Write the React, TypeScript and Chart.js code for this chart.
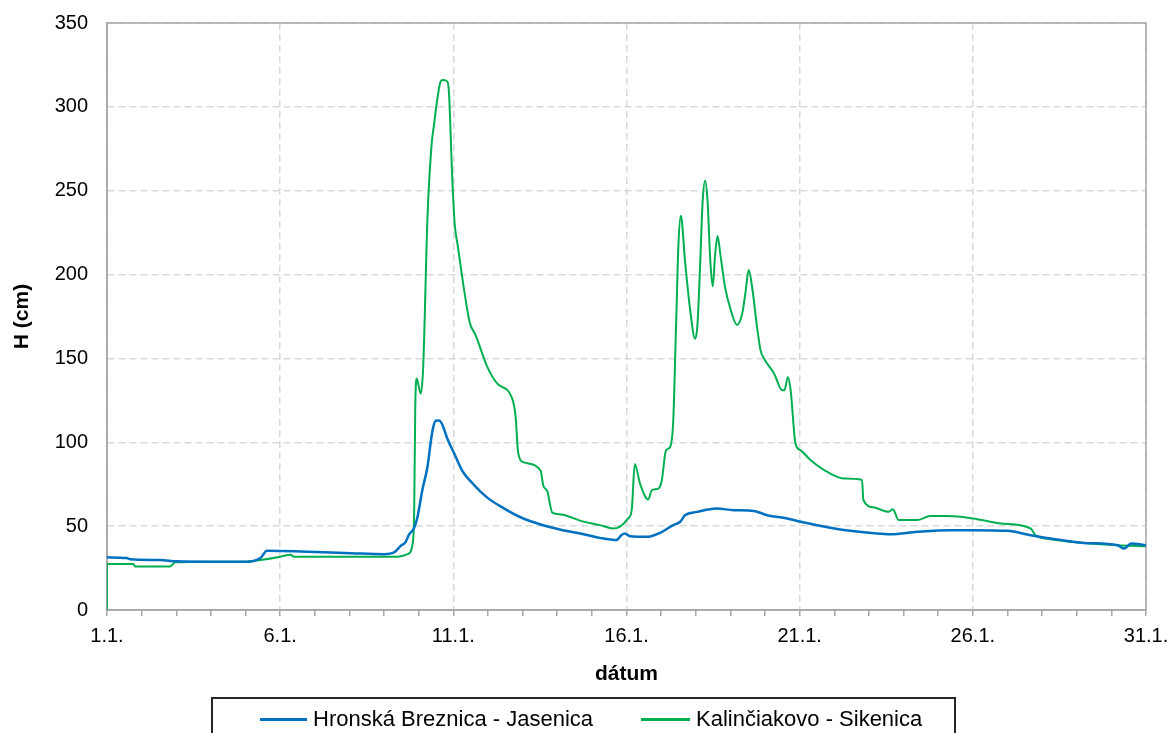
import React, { useEffect, useRef } from "react";
import { Chart, registerables } from "chart.js";

Chart.register(...registerables);

const hronLabel = "Hronská Breznica - Jasenica";
const sikLabel = "Kalinčiakovo - Sikenica";

const hronDays = [
  1.0, 1.57, 1.67, 2.53, 3.02, 3.98, 5.04, 5.43, 5.62, 6.59, 8.04, 9.0, 9.29, 9.48, 9.62, 9.72,
  9.87, 9.96, 10.11, 10.25, 10.39, 10.49, 10.59, 10.68, 10.83, 11.02, 11.26, 11.6, 11.98, 12.46,
  12.94, 13.52, 14.1, 14.7, 15.23, 15.71, 15.85, 15.95, 16.1, 16.63, 16.97, 17.35, 17.55, 17.69,
  18.03, 18.61, 19.09, 19.68, 20.06, 20.64, 21.03, 22.0, 22.46, 23.23, 23.62, 24.39, 25.35, 26.0,
  27.0, 27.67, 28.25, 29.21, 30.18, 30.37, 30.57, 31.0,
];
const hronH = [
  31.4, 31, 30.2, 29.8, 29, 28.8, 28.8, 31, 35.3, 34.9, 33.9, 33.3, 34.3, 38.2, 40.5, 45,
  49, 55, 72, 85, 106, 112.8, 113, 110.6, 102, 93.6, 83, 74.5, 67, 60.6,
  55.3, 51, 47.9, 45.5, 43, 41.7, 44.6, 45.6, 44, 43.7, 46, 50.6, 52.6, 56.5,
  58.5, 60.5, 59.5, 59.1, 56.5, 54.6, 52.6, 48.6, 47.2, 45.6, 45.2, 46.6, 47.6, 47.6,
  47.2, 44.6, 42.6, 40, 38.6, 36.6, 39.6, 38.6,
];

const sikDays = [
  1.0, 1.001, 1.76, 1.81, 2.82, 2.97, 3.98, 5.04, 5.43, 6.01, 6.3, 6.4, 7.55, 9.39, 9.68, 9.82,
  9.87, 9.9, 9.94, 10.06, 10.13, 10.25, 10.37, 10.44, 10.52, 10.63, 10.7, 10.83, 10.875, 10.97,
  11.04, 11.13, 11.31, 11.48, 11.64, 11.98, 12.27, 12.7, 12.8, 12.87, 13.04, 13.52, 13.6, 13.71,
  13.86, 14.1, 14.7, 15.23, 15.61, 15.8, 16.05, 16.15, 16.24, 16.39, 16.63, 16.73, 16.92, 17.02,
  17.14, 17.26, 17.35, 17.43, 17.5, 17.57, 17.69, 17.84, 17.98, 18.05, 18.13, 18.2, 18.27, 18.34,
  18.42, 18.49, 18.56, 18.63, 18.71, 18.85, 19.0, 19.19, 19.34, 19.43, 19.53, 19.63, 19.77, 19.87,
  19.97, 20.26, 20.5, 20.56, 20.66, 20.74, 20.88, 21.03, 21.32, 21.8, 22.29, 22.8, 22.84, 23.13,
  23.57, 23.69, 23.86, 24.39, 24.77, 25.26, 26.0, 26.8, 27.67, 27.81, 28.25, 29.21, 30.18, 31.0,
];
const sikH = [
  0, 27.5, 27.5, 26, 26, 28.4, 28.8, 28.8, 29.8, 31.8, 33, 31.8, 31.8, 31.8, 33.3, 39,
  60, 120, 138, 129, 145, 232, 277, 289, 302, 315, 316, 315, 308, 257,
  230, 217, 191, 171, 164, 145, 135, 126, 115, 94, 88, 83, 74, 71,
  58, 57, 53, 50.6, 48.6, 49.6, 54.6, 59.5, 87, 75.4, 65.9, 71.4, 72.4, 77.4,
  95.2, 97.2, 113, 168.7, 218, 235, 208, 178.6, 161.7, 170.6, 208, 244, 256, 244,
  208, 193, 212, 223, 212, 192, 179.6, 170, 176.6, 188.5, 202.8, 192, 168.7, 154.8,
  150, 141, 131, 131, 139, 131, 99.2, 95.2, 89.3, 82.3, 78.4, 77.6, 65.6, 61.2,
  58.6, 60, 53.6, 53.6, 56, 56, 54.6, 51.6, 48.6, 44.6, 42.2, 40, 38.6, 38,
];

const xMin = 1;
const xMax = 31;
const yMin = 0;
const yMax = 350;
const yStep = 50;
const xLabelEvery = 5;

const blue = "#0070C0";
const green = "#00B050";
const FONT = "'Liberation Sans', Arial, sans-serif";

const boxPlugin = {
  id: "plotBox",
  beforeDatasetsDraw(chart: any) {
    const { ctx, chartArea } = chart;
    ctx.save();
    ctx.strokeStyle = "#a6a6a6";
    ctx.lineWidth = 1.5;
    ctx.strokeRect(chartArea.left, chartArea.top, chartArea.right - chartArea.left, chartArea.bottom - chartArea.top);
    ctx.restore();
  },
};

export default function App() {
  const ref = useRef<HTMLCanvasElement | null>(null);

  useEffect(() => {
    if (!ref.current) return;
    const chart = new Chart(ref.current, {
      type: "line",
      data: {
        datasets: [
          {
            label: hronLabel,
            data: hronDays.map((d, i) => ({ x: d, y: hronH[i] })),
            borderColor: blue,
            backgroundColor: blue,
            borderWidth: 2.5,
            pointRadius: 0,
            cubicInterpolationMode: "monotone",
          },
          {
            label: sikLabel,
            data: sikDays.map((d, i) => ({ x: d, y: sikH[i] })),
            borderColor: green,
            backgroundColor: green,
            borderWidth: 2,
            pointRadius: 0,
            cubicInterpolationMode: "monotone",
          },
        ],
      },
      options: {
        animation: false,
        responsive: false,
        maintainAspectRatio: false,
        layout: { padding: { top: 23, right: 23, bottom: 46, left: 0 } },
        plugins: { legend: { display: false }, tooltip: { enabled: false } },
        scales: {
          x: {
            type: "linear",
            min: xMin,
            max: xMax,
            afterFit: (s: any) => {
              s.height = 77;
              s.paddingLeft = 0;
              s.paddingRight = 0;
            },
            ticks: {
              stepSize: 1,
              autoSkip: false,
              maxRotation: 0,
              minRotation: 0,
              padding: 8,
              color: "#000",
              font: { family: FONT, size: 20 },
              callback: (v: any) => ((Number(v) - xMin) % xLabelEvery === 0 ? `${v}.1.` : ""),
            },
            grid: {
              color: (c: any) =>
                c.tick && (c.tick.value - xMin) % xLabelEvery === 0 ? "#d9d9d9" : "rgba(0,0,0,0)",
              lineWidth: 1.5,
              drawTicks: true,
              tickLength: 6,
              tickColor: "#a6a6a6",
              tickWidth: 1.5,
              tickBorderDash: [],
            },
            border: { display: true, color: "#a6a6a6", width: 1.5, dash: [7, 4] },
            title: {
              display: true,
              text: "dátum",
              color: "#000",
              font: { family: FONT, size: 21, weight: "bold" },
              padding: { top: 0, bottom: 0 },
            },
          },
          y: {
            min: yMin,
            max: yMax,
            afterFit: (s: any) => {
              s.width = 107;
              s.paddingTop = 0;
              s.paddingBottom = 0;
            },
            ticks: {
              stepSize: yStep,
              padding: 19,
              color: "#000",
              font: { family: FONT, size: 20 },
            },
            grid: {
              color: "#d9d9d9",
              lineWidth: 1.5,
              drawTicks: false,
            },
            border: { display: true, color: "#a6a6a6", width: 1.5, dash: [7, 4] },
            title: {
              display: true,
              text: "H (cm)",
              color: "#000",
              font: { family: FONT, size: 21, weight: "bold" },
              padding: { top: 10, bottom: 0 },
            },
          },
        },
      },
      plugins: [boxPlugin],
    });
    return () => chart.destroy();
  }, []);

  const legendItem = (color: string, text: string, left: number, lineWidth: number) => (
    <div
      style={{
        position: "absolute",
        left,
        top: 0,
        height: "100%",
        display: "flex",
        alignItems: "center",
        whiteSpace: "nowrap",
      }}
    >
      <span style={{ display: "inline-block", width: lineWidth, height: 3, background: color, marginRight: 6 }} />
      <span style={{ fontFamily: FONT, fontSize: 22, color: "#000" }}>{text}</span>
    </div>
  );

  return (
    <div style={{ position: "fixed", left: 0, top: 0, width: 1169, height: 733, background: "#fff", overflow: "hidden" }}>
      <canvas ref={ref} width={1169} height={733} style={{ position: "absolute", left: 0, top: 0 }} />
      <div
        style={{
          position: "absolute",
          left: 211,
          top: 697,
          width: 745,
          height: 50,
          border: "2px solid #262626",
          boxSizing: "border-box",
        }}
      >
        <div style={{ position: "absolute", left: 0, top: 0, width: "100%", height: 40 }}>
          {legendItem(blue, hronLabel, 47, 47)}
          {legendItem(green, sikLabel, 428, 49)}
        </div>
      </div>
    </div>
  );
}
